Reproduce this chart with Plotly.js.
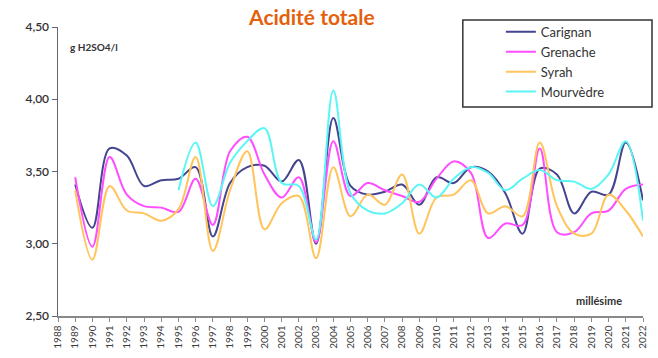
<!DOCTYPE html>
<html>
<head>
<meta charset="utf-8">
<script src="https://cdn.plot.ly/plotly-3.0.1.min.js"></script>
<style>html,body{margin:0;padding:0;background:#fff;}#chart{width:658px;height:358px;}</style>
</head>
<body>
<div id="chart"></div>
<script>
const years = [1989,1990,1991,1992,1993,1994,1995,1996,1997,1998,1999,2000,2001,2002,2003,2004,2005,2006,2007,2008,2009,2010,2011,2012,2013,2014,2015,2016,2017,2018,2019,2020,2021,2022];
const carignan = [3.41,3.11,3.66,3.61,3.40,3.44,3.45,3.53,3.05,3.42,3.53,3.54,3.43,3.58,3.00,3.87,3.40,3.34,3.36,3.41,3.27,3.46,3.42,3.53,3.50,3.35,3.07,3.52,3.48,3.21,3.36,3.34,3.70,3.30];
const grenache = [3.46,2.98,3.60,3.34,3.26,3.25,3.22,3.45,3.13,3.64,3.74,3.48,3.32,3.46,3.01,3.71,3.33,3.42,3.37,3.33,3.29,3.45,3.57,3.49,3.04,3.14,3.13,3.66,3.08,3.08,3.21,3.23,3.38,3.41];
const syrah = [3.37,2.89,3.40,3.23,3.21,3.16,3.24,3.60,2.95,3.37,3.64,3.10,3.28,3.33,2.90,3.53,3.19,3.34,3.27,3.48,3.07,3.32,3.34,3.44,3.21,3.26,3.19,3.70,3.26,3.07,3.07,3.34,3.23,3.05];
const mourvedre = [null,null,null,null,null,null,3.37,3.70,3.26,3.56,3.71,3.80,3.42,3.40,3.03,4.06,3.35,3.23,3.21,3.28,3.41,3.32,3.45,3.53,3.49,3.37,3.45,3.51,3.44,3.43,3.38,3.48,3.71,3.16];
const tickYears = [];
for (let y = 1988; y <= 2022; y++) tickYears.push(y);
const seriesNames = ['Carignan','Grenache','Syrah','Mourvèdre'];
const seriesColors = ['#45458f','#ff4dff','#ffc45c','#5cf5f5'];
const seriesData = [carignan, grenache, syrah, mourvedre];

const traces = seriesData.map((d, i) => ({
  type: 'scatter', mode: 'lines', name: seriesNames[i],
  x: years, y: d,
  line: {color: seriesColors[i], width: 2, shape: 'spline', smoothing: 1},
  connectgaps: false
}));

const font = 'Lato, "Open Sans", "DejaVu Sans", sans-serif';
const layout = {
  width: 658, height: 358,
  margin: {l: 58, r: 15, t: 27, b: 42},
  paper_bgcolor: '#fff', plot_bgcolor: '#fff',
  separators: ', ',
  showlegend: true,
  font: {family: font, color: '#333'},
  title: {text: '<b>Acidité totale</b>', x: 0.474, xanchor: 'center', y: 0.95, yanchor: 'middle',
          font: {family: font, size: 21, color: '#e4600a'}},
  xaxis: {
    range: [1988, 2022], tickmode: 'array', tickvals: tickYears, ticktext: tickYears.map(String),
    tickangle: -90, tickfont: {size: 10, color: '#3a3a3a'},
    showgrid: false, zeroline: false, showline: true, linecolor: '#888', linewidth: 1.5,
    ticks: 'outside', ticklen: 4, tickcolor: '#888'
  },
  yaxis: {
    range: [2.5, 4.5], tickvals: [2.5, 3.0, 3.5, 4.0, 4.5], tickformat: '.2f',
    tickfont: {size: 12, color: '#333', weight: 600},
    showgrid: false, zeroline: false, showline: true, linecolor: '#666', linewidth: 1.5,
    ticks: 'outside', ticklen: 5, tickcolor: '#666'
  },
  legend: {
    x: 0.757, xanchor: 'left', y: 1.035, yanchor: 'top',
    bgcolor: 'rgba(0,0,0,0)', borderwidth: 0,
    font: {family: font, size: 13, color: '#333'}
  },
  shapes: [{
    type: 'rect', xref: 'paper', yref: 'paper',
    x0: 0.692, x1: 1.0154, y0: 0.723, y1: 1.024,
    line: {color: '#333', width: 1.5}, fillcolor: 'rgba(255,255,255,0)', layer: 'above'
  }],
  annotations: [
    {text: '<b>g H2SO4/l</b>', xref: 'paper', yref: 'paper', x: 0.017, y: 0.93, xanchor: 'left', yanchor: 'middle',
     showarrow: false, font: {family: font, size: 10, color: '#333'}},
    {text: '<b>millésime</b>', xref: 'paper', yref: 'paper', x: 0.968, y: 0.055, xanchor: 'right', yanchor: 'middle',
     showarrow: false, font: {family: font, size: 11, color: '#333'}}
  ]
};
Plotly.newPlot('chart', traces, layout, {displayModeBar: false, staticPlot: true});
</script>
</body>
</html>
